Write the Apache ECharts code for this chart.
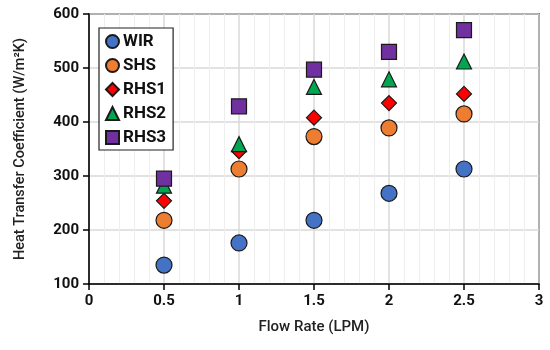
<!DOCTYPE html>
<html><head><meta charset="utf-8">
<script src="https://cdn.jsdelivr.net/npm/echarts@6/dist/echarts.min.js"></script>
<style>html,body{margin:0;padding:0;background:#fff}#c{width:550px;height:350px}</style>
</head><body><div id="c"></div>
<script>
var flowRates = [0.5, 1, 1.5, 2, 2.5];
var WIR  = [135, 176, 218, 268, 313];
var SHS  = [218, 313, 373, 389, 415];
var RHS1 = [254, 346, 408, 435, 452];
var RHS2 = [282, 359, 465, 479, 512];
var RHS3 = [295, 429, 497, 530, 570];
var seriesNames = ['WIR', 'SHS', 'RHS1', 'RHS2', 'RHS3'];
var seriesValues = [WIR, SHS, RHS1, RHS2, RHS3];
var colors = ['#4472C4', '#ED7D31', '#FF0000', '#00A650', '#7030A0'];
var symbols = ['circle', 'circle', 'diamond', 'triangle', 'rect'];
var sizes = [16, 16, 15, 15, 15];

var font = 'Roboto, "DejaVu Sans", sans-serif';
var chart = echarts.init(document.getElementById('c'), null, {renderer: 'canvas'});
chart.setOption({
  animation: false,
  backgroundColor: '#fff',
  grid: {left: 89, right: 11, top: 14, bottom: 66, show: true, borderColor: '#000', borderWidth: 1.5, backgroundColor: 'transparent'},
  legend: {
    orient: 'vertical', left: 99, top: 28,
    data: seriesNames,
    itemWidth: 13, itemHeight: 13, itemGap: 7,
    borderColor: '#222', borderWidth: 1.2, padding: [5, 7, 4, 6],
    backgroundColor: '#fff',
    textStyle: {fontFamily: font, fontSize: 17, fontWeight: 'bold', color: '#111', padding: [0, 0, 0, -1]}
  },
  xAxis: {
    type: 'value', min: 0, max: 3, interval: 0.5,
    name: 'Flow Rate (LPM)', nameLocation: 'middle', nameGap: 36,
    nameTextStyle: {fontFamily: font, fontSize: 15, fontWeight: 500, color: '#222'},
    axisLine: {show: true, onZero: false, lineStyle: {color: '#000', width: 1.5}},
    axisTick: {show: true, length: 6, lineStyle: {color: '#000', width: 1.5}},
    axisLabel: {fontFamily: font, fontSize: 15, fontWeight: 'bold', color: '#111', margin: 10},
    splitLine: {show: true, lineStyle: {color: '#d9d9d9', width: 1.5}},
    minorTick: {show: false, splitNumber: 5},
    minorSplitLine: {show: true, lineStyle: {color: '#eeeeee', width: 1}}
  },
  yAxis: {
    type: 'value', min: 100, max: 600, interval: 100,
    name: 'Heat Transfer Coefficient (W/m²K)', nameLocation: 'middle', nameGap: 61, nameRotate: 90,
    nameTextStyle: {fontFamily: font, fontSize: 14.5, fontWeight: 500, color: '#222'},
    axisLine: {show: true, onZero: false, lineStyle: {color: '#000', width: 1.5}},
    axisTick: {show: true, length: 6, lineStyle: {color: '#000', width: 1.5}},
    axisLabel: {fontFamily: font, fontSize: 15, fontWeight: 'bold', color: '#111', margin: 10},
    splitLine: {show: true, lineStyle: {color: '#d9d9d9', width: 1.5}}
  },
  series: seriesNames.map(function (n, i) {
    return {
      name: n, type: 'scatter', symbol: symbols[i], symbolSize: sizes[i],
      itemStyle: {color: colors[i], borderColor: '#1a1a1a', borderWidth: 1.2, opacity: 1},
      data: flowRates.map(function (x, j) { return [x, seriesValues[i][j]]; })
    };
  })
});
</script></body></html>
